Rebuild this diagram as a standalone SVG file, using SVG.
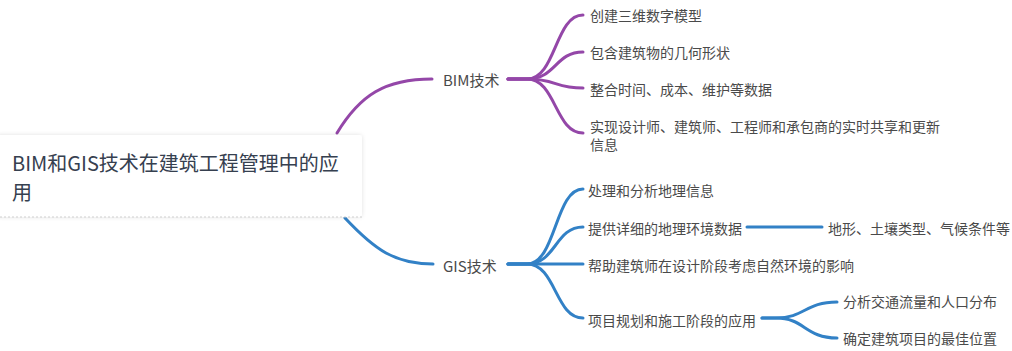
<svg xmlns="http://www.w3.org/2000/svg" width="1012" height="351" viewBox="0 0 1012 351">
<defs>
<filter id="sh" x="-5%" y="-20%" width="110%" height="140%">
<feDropShadow dx="0" dy="0" stdDeviation="2" flood-color="#000" flood-opacity="0.12"/>
</filter>
</defs>
<style>
text{font-family:"Noto Sans CJK SC","Noto Sans",sans-serif;}
.root{font-size:20px;fill:#36404f;}
.t{font-size:14px;fill:#4a4a4a;dominant-baseline:central;}
.b{font-size:15px;fill:#4a4a4a;dominant-baseline:central;}
.p{fill:none;stroke:#9447a8;stroke-width:3;stroke-linecap:round;}
.g{fill:none;stroke:#3281c6;stroke-width:3;stroke-linecap:round;}
</style>
<rect width="1012" height="351" fill="#ffffff"/>
<g id="connectors">
<path class="p" d="M337,133 C360,95 385,79 432,79"/>
<path class="p" d="M508,79 L527,79 C556,79 555,15 583,15"/>
<path class="p" d="M508,79 L527,79 C556,79 555,52 583,52"/>
<path class="p" d="M508,79 L527,79 C556,79 555,88 583,88"/>
<path class="p" d="M508,79 L527,79 C556,79 555,133 583,133"/>
<path class="g" d="M345,218 C375,250 395,264 433,264"/>
<path class="g" d="M508,264 L527,264 C556,264 555,189 583,189"/>
<path class="g" d="M508,264 L527,264 C556,264 555,227 583,227"/>
<path class="g" d="M508,264 L583,264"/>
<path class="g" d="M508,264 L527,264 C556,264 555,318 583,318"/>
<path class="g" d="M747,227 L822,227"/>
<path class="g" d="M762,318 L776,318 C805,318 805,302 837,302"/>
<path class="g" d="M762,318 L776,318 C805,318 805,338 837,338"/>
</g>
<g id="root">
<rect x="-4" y="135" width="366" height="82" rx="3" fill="#ffffff" filter="url(#sh)"/>
<line x1="0" y1="217" x2="362" y2="217" stroke="#cfcfcf" stroke-width="1" stroke-dasharray="2,2"/>
<text class="root" x="12" y="171">BIM和GIS技术在建筑工程管理中的应</text>
<text class="root" x="12" y="200">用</text>
</g>
<g id="bim"><text class="b" x="443" y="79">BIM技术</text></g>
<g id="bim1"><text class="t" x="590" y="15">创建三维数字模型</text></g>
<g id="bim2"><text class="t" x="590" y="52">包含建筑物的几何形状</text></g>
<g id="bim3"><text class="t" x="590" y="89">整合时间、成本、维护等数据</text></g>
<g id="bim4"><text class="t" x="590" y="126">实现设计师、建筑师、工程师和承包商的实时共享和更新</text><text class="t" x="590" y="144">信息</text></g>
<g id="gis"><text class="b" x="443" y="265">GIS技术</text></g>
<g id="gis1"><text class="t" x="588" y="190">处理和分析地理信息</text></g>
<g id="gis2"><text class="t" x="588" y="228">提供详细的地理环境数据</text></g>
<g id="gis2a"><text class="t" x="828" y="228">地形、土壤类型、气候条件等</text></g>
<g id="gis3"><text class="t" x="588" y="265">帮助建筑师在设计阶段考虑自然环境的影响</text></g>
<g id="gis4"><text class="t" x="588" y="320">项目规划和施工阶段的应用</text></g>
<g id="gis4a"><text class="t" x="843" y="301">分析交通流量和人口分布</text></g>
<g id="gis4b"><text class="t" x="843" y="338">确定建筑项目的最佳位置</text></g>
</svg>
